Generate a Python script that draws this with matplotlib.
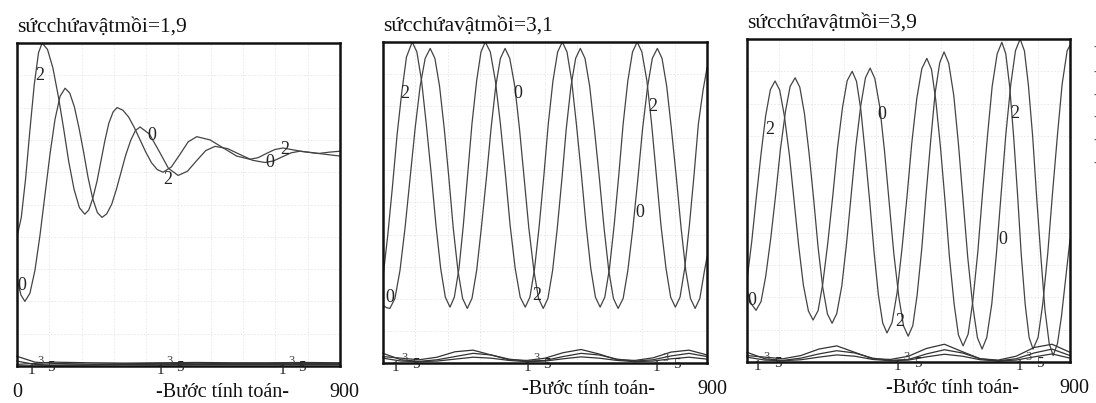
import matplotlib
matplotlib.use("Agg")
import matplotlib.pyplot as plt

plt.rcParams['font.family'] = ['Liberation Serif', 'DejaVu Serif']

# values: x = calculation step, y = % of panel height
titles = ["sứcchứavậtmồi=1,9", "sứcchứavậtmồi=3,1", "sứcchứavậtmồi=3,9"]
x_label = "-Bước tính toán-"

# panel 1 (carrying capacity 1.9): damped oscillation
p1_c2_x = [0, 12, 24, 36, 48, 60, 70,
           85, 100, 115, 130, 144, 159, 174, 189,
           200, 211, 223, 234, 245, 256, 268, 279,
           295, 311, 327, 343, 359, 375, 391, 407,
           430, 454, 477, 501, 538, 575, 612, 649,
           672, 695, 718, 741, 790, 840, 870, 900]
p1_c2_y = [40, 46, 58, 73, 87, 97, 100,
           98.0, 92.3, 83.6, 73.5, 63.4, 54.7, 49.0, 47,
           48.3, 51.8, 57.2, 63.5, 69.8, 75.2, 78.7, 80,
           79.2, 77.1, 73.8, 70, 66.2, 62.9, 60.8, 60,
           61.6, 65.5, 69.4, 71, 70, 67.5, 65, 64,
           64.5, 65.8, 67, 67.5, 66.5, 65.8, 66.2, 66.5]
p1_c0_x = [0, 11, 22,
           36, 50, 64, 78, 92, 106, 120, 134,
           147, 160, 173, 186, 198, 211, 224, 237,
           250, 264, 277, 290, 303, 317, 330, 343,
           369, 396, 422, 449, 475, 500, 526, 552,
           587, 621, 656, 691, 715, 740, 764, 788, 840, 900]
p1_c0_y = [27, 22, 20,
           22.5, 29.6, 40.4, 53, 65.6, 76.4, 83.5, 86,
           84.5, 80.2, 73.6, 66, 58.4, 51.8, 47.5, 46,
           47.1, 50.1, 54.7, 60, 65.3, 69.9, 72.9, 74,
           71.8, 66.5, 61.2, 59, 60.3, 63.5, 66.7, 68,
           67.3, 65.5, 63.7, 63, 63.5, 64.8, 66, 66.5, 65.8, 65]

# panel 2 (carrying capacity 3.1): steady cycles
p2_c2_x = [0, 13, 26, 39, 52, 65, 81,
           94, 107, 120, 134, 147, 160, 173, 186,
           198, 211, 223, 235, 247, 260, 272, 284,
           298, 312, 326, 340, 353, 367, 381, 395,
           408, 421, 434, 447, 459, 472, 485, 498,
           511, 524, 537, 551, 564, 577, 590, 603,
           616, 629, 642, 655, 667, 680, 693, 706,
           719, 733, 746, 759, 772, 786, 799, 812,
           825, 838, 851, 864, 876, 889, 900]
p2_c2_y = [26.9, 39.7, 54.8, 71.1, 84.3, 95.3, 100,
           96.9, 87.9, 74.5, 58.7, 42.9, 29.5, 20.5, 17.4,
           20.5, 29.5, 42.9, 58.7, 74.5, 87.9, 96.9, 100,
           96.9, 87.9, 74.5, 58.7, 42.9, 29.5, 20.5, 17.4,
           20.5, 29.5, 42.9, 58.7, 74.5, 87.9, 96.9, 100,
           96.9, 87.9, 74.5, 58.7, 42.9, 29.5, 20.5, 17.4,
           20.5, 29.5, 42.9, 58.7, 74.5, 87.9, 96.9, 100,
           96.9, 87.9, 74.5, 58.7, 42.9, 29.5, 20.5, 17.4,
           20.5, 29.5, 42.9, 58.7, 74.5, 85, 92]
p2_c0_x = [0, 10, 19,
           33, 47, 61, 75, 89, 103, 117, 131,
           144, 157, 170, 183, 195, 208, 221, 234,
           247, 260, 273, 287, 300, 313, 326, 339,
           352, 366, 379, 392, 405, 419, 432, 445,
           458, 471, 484, 497, 509, 522, 535, 548,
           561, 574, 587, 601, 614, 627, 640, 653,
           667, 680, 694, 708, 721, 735, 748, 762,
           775, 788, 801, 815, 828, 841, 854, 867,
           880, 893, 900]
p2_c0_y = [18, 17.2, 17,
           20.1, 28.8, 42.0, 57.5, 73.0, 86.2, 94.9, 98,
           94.9, 86.2, 73.0, 57.5, 42.0, 28.8, 20.1, 17,
           20.1, 28.8, 42.0, 57.5, 73.0, 86.2, 94.9, 98,
           94.9, 86.2, 73.0, 57.5, 42.0, 28.8, 20.1, 17,
           20.1, 28.8, 42.0, 57.5, 73.0, 86.2, 94.9, 98,
           94.9, 86.2, 73.0, 57.5, 42.0, 28.8, 20.1, 17,
           20.1, 28.8, 42.0, 57.5, 73.0, 86.2, 94.9, 98,
           94.9, 86.2, 73.0, 57.5, 42.0, 28.8, 20.1, 17,
           20.1, 28.8, 33]

# panel 3 (carrying capacity 3.9): growing cycles
p3_c2_x = [0, 13, 26, 39, 52, 65, 78,
           91, 104, 118, 131, 144, 157, 171, 184,
           198, 211, 225, 239, 252, 266, 279, 293,
           305, 317, 329, 342, 354, 366, 378, 390,
           404, 418, 432, 446, 459, 473, 487, 501,
           514, 526, 539, 552, 564, 577, 589, 602,
           616, 629, 643, 656, 670, 683, 697, 710,
           721, 732, 743, 754, 764, 775, 786, 797,
           811, 824, 838, 851, 865, 878, 892, 900]
p3_c2_y = [25.4, 37.2, 51.1, 64.4, 76.3, 84.3, 87,
           84.2, 76.2, 64.1, 50, 35.9, 23.8, 15.8, 13,
           15.9, 24.2, 36.8, 51.5, 66.2, 78.8, 87.1, 90,
           86.9, 78.2, 65.0, 49.5, 34.0, 20.8, 12.1, 9,
           12.2, 21.4, 35.3, 51.5, 67.7, 81.6, 90.8, 94,
           90.6, 81.0, 66.5, 49.5, 32.5, 18.0, 8.4, 5,
           8.6, 18.7, 34.0, 52, 70.0, 85.3, 95.4, 99,
           95.4, 85.1, 69.6, 51.5, 33.4, 17.9, 7.6, 4,
           7.6, 18.0, 33.7, 52, 70.3, 86.0, 96.4, 98]
p3_c0_x = [0, 12, 25,
           39, 52, 66, 80, 93, 107, 120, 134,
           147, 160, 173, 186, 198, 211, 224, 237,
           250, 264, 277, 290, 303, 317, 330, 343,
           356, 370, 383, 396, 409, 423, 436, 449,
           462, 474, 487, 499, 512, 524, 537, 549,
           562, 576, 589, 602, 615, 629, 642, 655,
           668, 682, 695, 708, 721, 735, 748, 761,
           773, 784, 796, 807, 819, 830, 842, 853,
           865, 876, 888, 900]
p3_c0_y = [22, 18, 16,
           18.7, 26.5, 38.2, 52, 65.8, 77.5, 85.3, 88,
           85.1, 76.9, 64.5, 50, 35.5, 23.1, 14.9, 12,
           15.0, 23.5, 36.4, 51.5, 66.6, 79.5, 88.0, 91,
           87.8, 78.9, 65.4, 49.5, 33.6, 20.1, 11.2, 8,
           11.3, 20.8, 35.2, 52, 68.8, 83.2, 92.7, 96,
           92.5, 82.6, 67.6, 50, 32.4, 17.4, 7.5, 4,
           7.6, 18.0, 33.7, 52, 70.3, 86.0, 96.4, 100,
           96.3, 85.7, 69.7, 51, 32.3, 16.3, 5.7, 2,
           5.7, 14, 26, 38]

# small series 1, 3, 5 along the bottom
small_x1 = [0, 50, 100, 200, 300, 400, 500, 600, 700, 800, 900]
p1_s1 = [3.0, 1.2, 0.8, 0.6, 0.7, 0.8, 0.7, 0.8, 0.8, 0.8, 0.8]
p1_s3 = [1.5, 0.5, 0.3, 0.4, 0.5, 0.4, 0.5, 0.5, 0.5, 0.5, 0.5]
p1_s5 = [0.5, 0.8, 1.2, 1.0, 0.9, 1.0, 1.1, 1.0, 1.0, 1.1, 1.0]
small_x = [0, 50, 100, 150, 200, 250, 300, 350, 400, 450, 500, 550, 600, 650, 700, 750, 800, 850, 900]
p2_s1 = [3.0, 1.0, 0.5, 1.0, 2.0, 3.0, 2.5, 1.2, 0.6, 0.8, 2.0, 3.0, 2.5, 1.2, 0.6, 1.0, 2.2, 3.0, 2.0]
p2_s3 = [1.5, 0.6, 0.4, 0.6, 1.2, 1.8, 1.5, 0.8, 0.4, 0.6, 1.3, 1.9, 1.5, 0.8, 0.4, 0.6, 1.3, 1.8, 1.2]
p2_s5 = [2.0, 1.5, 1.0, 1.8, 3.5, 4.0, 2.5, 1.0, 0.8, 1.5, 3.2, 4.2, 2.8, 1.0, 0.8, 1.6, 3.4, 4.0, 2.5]
p3_s1 = [3.0, 1.0, 0.5, 1.2, 2.5, 3.5, 2.8, 1.2, 0.5, 0.8, 2.5, 3.8, 2.8, 1.0, 0.4, 1.0, 2.8, 4.0, 2.0]
p3_s3 = [1.5, 0.6, 0.4, 0.7, 1.5, 2.2, 1.8, 0.8, 0.4, 0.6, 1.6, 2.4, 1.8, 0.7, 0.3, 0.6, 1.6, 2.5, 1.2]
p3_s5 = [2.0, 1.5, 1.0, 2.0, 4.0, 5.0, 3.0, 1.0, 0.8, 1.8, 4.2, 5.5, 3.2, 1.0, 0.6, 1.8, 4.5, 5.5, 3.0]

# curve labels (step, value, text)
p1_labels = [(64, 90, "2"), (376, 71.5, "0"), (421, 57.6, "2"), (705, 63, "0"), (747, 67, "2"), (14, 25, "0")]
p2_labels = [(61, 84, "2"), (375, 84, "0"), (748, 80, "2"), (714, 47, "0"), (428, 21, "2"), (19, 20.5, "0")]
p3_labels = [(64, 72, "2"), (376, 76.5, "0"), (747, 77, "2"), (713, 38, "0"), (426, 12.4, "2"), (14, 19, "0")]
small_label_steps = [[40, 400, 740], [35, 400, 760], [30, 420, 760]]

panels = [
    (p1_c0_x, p1_c0_y, p1_c2_x, p1_c2_y, small_x1, [p1_s1, p1_s3, p1_s5], p1_labels),
    (p2_c0_x, p2_c0_y, p2_c2_x, p2_c2_y, small_x, [p2_s1, p2_s3, p2_s5], p2_labels),
    (p3_c0_x, p3_c0_y, p3_c2_x, p3_c2_y, small_x, [p3_s1, p3_s3, p3_s5], p3_labels),
]
boxes = [[0.0155, 0.0918, 0.2947, 0.8015],
         [0.3495, 0.0993, 0.2956, 0.7965],
         [0.6816, 0.1017, 0.2947, 0.8015]]

fig = plt.figure(figsize=(10.96, 4.03), dpi=100)

for i, (c0x, c0y, c2x, c2y, sx, smalls, labels) in enumerate(panels):
    ax = fig.add_axes(boxes[i])
    ax.set_xlim(0, 900)
    ax.set_ylim(0, 100)
    ax.set_xticks([k * 90 for k in range(11)])
    ax.set_yticks([k * 10 for k in range(11)])
    ax.grid(True, color="#e6e6e6", linewidth=0.6, linestyle=(0, (2, 2)))
    ax.tick_params(length=0, labelbottom=False, labelleft=False)
    for s in ax.spines.values():
        s.set_linewidth(1.8)
        s.set_color("#111111")

    ax.plot(c0x, c0y, color="#444444", linewidth=0.9)
    ax.plot(c2x, c2y, color="#444444", linewidth=0.9)
    for sy in smalls:
        ax.plot(sx, sy, color="#333333", linewidth=0.9, clip_on=False)

    for lx, ly, t in labels:
        ax.text(lx, ly, t, fontsize=13, ha="center", va="center", color="#222222")
    for st in small_label_steps[i]:
        ax.text(st, -1.5, "1", fontsize=11, ha="center", va="center", color="#222222")
        ax.text(st + 25, 1.5, "3", fontsize=9, ha="center", va="center", color="#444444")
        ax.text(st + 55, -0.5, "5", fontsize=11, ha="center", va="center", color="#222222")

    ax.text(0, 1.02, titles[i], transform=ax.transAxes, fontsize=15.5,
            ha="left", va="bottom", color="#111111")
    ax.text(0.635, -0.082, x_label, transform=ax.transAxes, fontsize=14.5,
            ha="center", va="center", color="#111111")
    ax.text(1.015, -0.082, "900", transform=ax.transAxes, fontsize=14.5,
            ha="center", va="center", color="#111111")
    if i == 0:
        ax.text(0.0, -0.082, "0", transform=ax.transAxes, fontsize=14.5,
                ha="center", va="center", color="#111111")

# clipped legend marks at the right edge of the scan
for yy in [47, 72, 95, 117, 140, 163]:
    fig.text(1093 / 1096, 1 - yy / 403, "-", fontsize=10, color="#555555", ha="left", va="center")

fig.savefig("out.png", dpi=100, facecolor="white")
